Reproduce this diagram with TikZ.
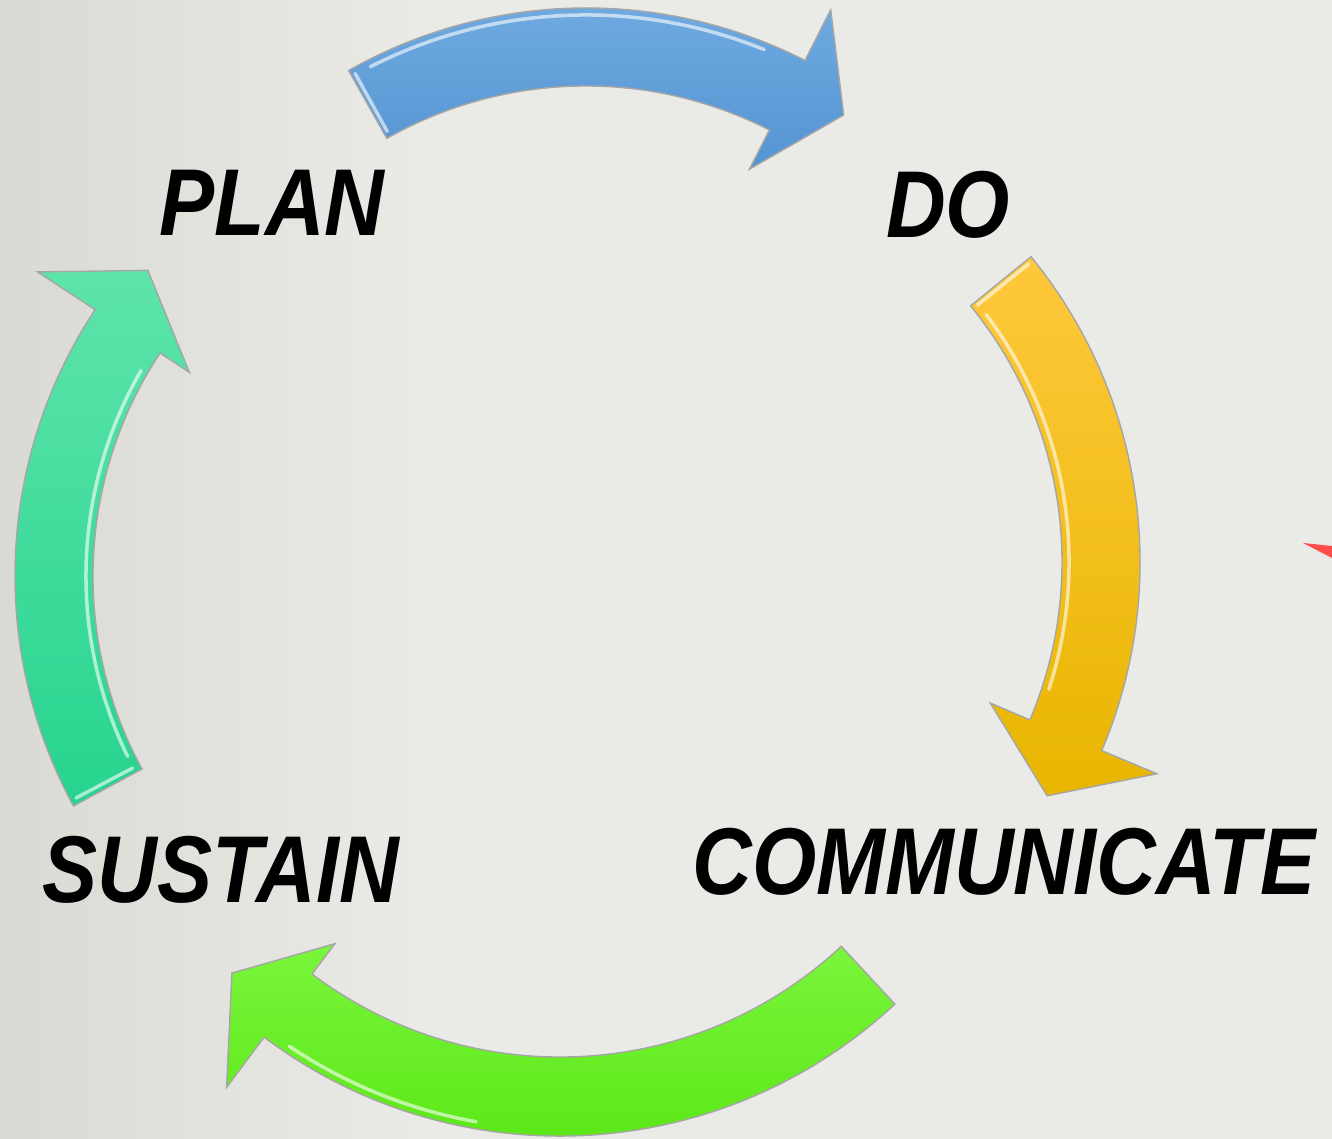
\documentclass[tikz,border=0pt]{standalone}
\usepackage{fontspec}
\setmainfont{Liberation Sans}
\usetikzlibrary{calc}
\definecolor{bg}{RGB}{234,234,230}
\definecolor{bgdark}{RGB}{218,218,213}
\definecolor{blueT}{RGB}{114,172,226}
\definecolor{blueB}{RGB}{84,148,210}
\definecolor{yelT}{RGB}{255,200,60}
\definecolor{yelB}{RGB}{232,182,0}
\definecolor{grnT}{RGB}{122,246,60}
\definecolor{grnB}{RGB}{86,228,16}
\definecolor{tealT}{RGB}{94,228,170}
\definecolor{tealB}{RGB}{38,212,142}
\definecolor{redtri}{RGB}{255,77,77}
\begin{document}
\begin{tikzpicture}[x=0.01cm,y=0.01cm,
  arrowshape/.style={draw=black!35, line width=0.4pt, line join=miter},
  bevel/.style={white, opacity=0.6, line width=1pt, line cap=round},
  cyclabel/.style={font=\fontsize{27}{27}\selectfont\bfseries\itshape, text=black, inner sep=0pt}]
\useasboundingbox (0,0) rectangle (1332,1139);
% background
\fill[bg] (0,0) rectangle (1332,1139);
\shade[left color=bgdark, right color=bg] (0,0) rectangle (420,1139);
% red fragment at right edge
\fill[redtri] (1303,596) -- (1332,593) -- (1332,581) -- cycle;
% blue arrow (PLAN -> DO)
\begin{scope}[shift={(586,649)}]
  \path[arrowshape, top color=blueT, bottom color=blueB]
    (119.5:482) arc[start angle=119.5, end angle=63, radius=4.82cm]
    -- (63:539) -- (55.5:455) -- (63:360) -- (63:404)
    arc[start angle=63, end angle=119.5, radius=4.04cm] -- cycle;
  \draw[bevel] (117:475) arc[start angle=117, end angle=68, radius=4.75cm];
  \draw[bevel] (119:410) -- (119:476);
\end{scope}
% yellow arrow (DO -> COMMUNICATE)
\begin{scope}[shift={(658,577)}]
  \path[arrowshape, top color=yelT, bottom color=yelB]
    (39.3:482) arc[start angle=39.3, end angle=-23, radius=4.82cm]
    -- (-23:542) -- (-31:454) -- (-23:361) -- (-23:404)
    arc[start angle=-23, end angle=39.3, radius=4.04cm] -- cycle;
  \draw[bevel] (37:411) arc[start angle=37, end angle=-18, radius=4.11cm];
  \draw[bevel] (38.8:410) -- (38.8:476);
\end{scope}
% green arrow (COMMUNICATE -> SUSTAIN)
\begin{scope}[shift={(560,494)}]
  \path[arrowshape, top color=grnT, bottom color=grnB]
    (-47:491) arc[start angle=-47, end angle=-127, radius=4.91cm]
    -- (-127:554) -- (-135:464) -- (-127:374) -- (-127:412)
    arc[start angle=-127, end angle=-47, radius=4.12cm] -- cycle;
  \draw[bevel] (-124:484) arc[start angle=-124, end angle=-100, radius=4.84cm];
\end{scope}
% teal arrow (SUSTAIN -> PLAN)
\begin{scope}[shift={(497,563)}]
  \path[arrowshape, top color=tealT, bottom color=tealB]
    (208.5:482) arc[start angle=208.5, end angle=146.5, radius=4.82cm]
    -- (146.5:551) -- (138.8:464) -- (146.5:369) -- (146.5:404)
    arc[start angle=146.5, end angle=208.5, radius=4.04cm] -- cycle;
  \draw[bevel] (150:411) arc[start angle=150, end angle=206, radius=4.11cm];
  \draw[bevel] (207.8:412) -- (207.8:476);
\end{scope}
% labels
\node[cyclabel] (plan) at (272,936) {\scalebox{0.87}[1]{PLAN}};
\node[cyclabel] (do) at (948,934) {\scalebox{0.87}[1]{DO}};
\node[cyclabel] (sustain) at (221,269) {\scalebox{0.87}[1]{SUSTAIN}};
\node[cyclabel] (communicate) at (1004,277) {\scalebox{0.87}[1]{COMMUNICATE}};
\end{tikzpicture}
\end{document}
